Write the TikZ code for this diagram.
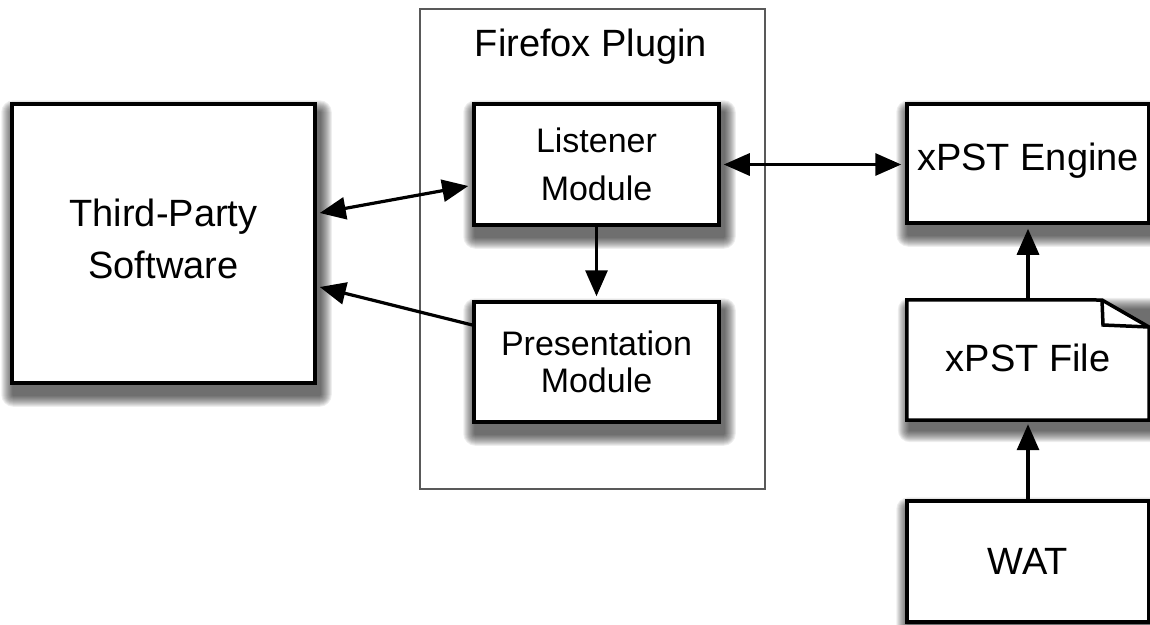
\documentclass[tikz,border=0pt]{standalone}
\usepackage{fontspec}
\setmainfont{Liberation Sans}
\usetikzlibrary{arrows.meta,backgrounds}
\tikzset{
  box/.style={draw=black,line width=3.5pt,fill=white,inner sep=0pt,align=center,
    font=\fontsize{38}{51}\selectfont},
  modbox/.style={box,font=\fontsize{34}{48}\selectfont},
  txt/.style={inner sep=0pt,align=center,font=\fontsize{38}{52}\selectfont},
  tipA/.tip={Triangle[length=26pt,width=22pt]},
  conn/.style={line width=3.2pt,-tipA},
  biconn/.style={line width=3.2pt,tipA-tipA}
}
\begin{document}
\begin{tikzpicture}[x=1pt,y=-1pt]
\useasboundingbox (0,0) rectangle (1150,624);
% Firefox plugin frame
\node[draw=black!65,line width=1.5pt,minimum width=345pt,minimum height=480pt,inner sep=0pt] (ff) at (592.5,249) {};
\node[font=\fontsize{38}{46}\selectfont] (fftitle) at (591,47) {Firefox Plugin};
% boxes
\node[box,minimum width=303pt,minimum height=279pt] (tp) at (163.5,243.5) {};
\node[txt] (tptext) at (163.5,239) {Third-Party\\Software};
\node[modbox,minimum width=245pt,minimum height=121pt] (lis) at (596.5,164.5) {Listener\\Module};
\node[modbox,minimum width=245pt,minimum height=120pt,font=\fontsize{34}{37}\selectfont] (pres) at (596.5,362) {Presentation\\Module};
\node[box,minimum width=242pt,minimum height=119pt] (eng) at (1028,163.5) {};
\node[txt] (engtext) at (1028,161) {xPST Engine};
\node[box,minimum width=242pt,minimum height=121pt] (wat) at (1028,561.5) {WAT};
% xPST File (folded corner)
\node[inner sep=0pt,minimum width=242pt,minimum height=120pt] (file) at (1028,360) {};
\filldraw[line width=3.5pt,fill=white,line join=miter]
  (file.north west) -- (1102,300) -- (1149,327) -- (file.south east) -- (file.south west) -- cycle;
\draw[line width=3.5pt,line join=miter] (1102,300) -- (1103,325) -- (1149,327);
\node[txt] (filetext) at (1028,358) {xPST File};
% soft shadows
\begin{scope}[on background layer]
\foreach \n in {tp,lis,pres,eng,file,wat}{
  \foreach \r in {12,11,...,1}{
    \fill[black,opacity=0.065,rounded corners=\r pt]
      ([xshift=3pt-\r pt,yshift=-10pt-\r pt]\n.south west) rectangle
      ([xshift=3pt+\r pt,yshift=-10pt+\r pt]\n.north east);
  }
}
\end{scope}
% connectors
\draw[biconn] ([xshift=3pt,yshift=30.5pt]tp.east) -- ([xshift=-4pt,yshift=-21.5pt]lis.west);
\draw[conn] ([yshift=37pt]pres.west) -- ([xshift=3pt,yshift=-43.5pt]tp.east);
\draw[conn] (lis.south) -- ([yshift=4pt]pres.north);
\draw[biconn] ([xshift=3pt]lis.east) -- ([xshift=-4pt]lis.east -| eng.west);
\draw[conn] (file.north) -- ([yshift=-4pt]eng.south);
\draw[conn] (wat.north) -- ([yshift=-4pt]file.south);
\end{tikzpicture}
\end{document}
